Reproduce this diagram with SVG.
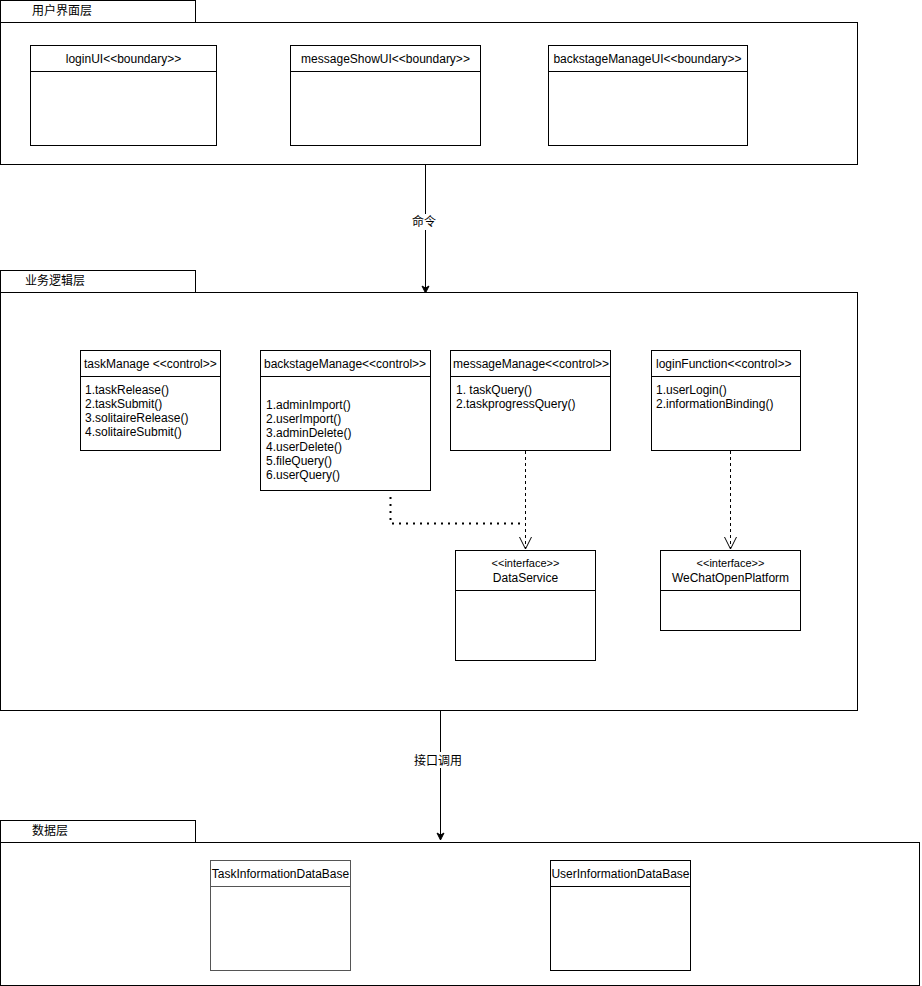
<svg xmlns="http://www.w3.org/2000/svg" width="922" height="986" viewBox="0 0 922 986">
<style>
text{font-family:"Liberation Sans","Noto Sans CJK SC",sans-serif;font-size:12px;fill:#000}
.b{fill:#fff;stroke:#000;stroke-width:1}
.l{stroke:#000;stroke-width:1;fill:none}
.c{text-anchor:middle}
</style>
<defs>
<marker id="fa" markerWidth="10" markerHeight="10" refX="8" refY="5" orient="auto" markerUnits="userSpaceOnUse"><path d="M1,1.5 L8,5 L1,8.5 L3,5 Z" fill="#000" stroke="#000"/></marker>
<marker id="oa" markerWidth="14" markerHeight="16" refX="13" refY="7" orient="auto" markerUnits="userSpaceOnUse"><path d="M1,1 L13,7 L1,13" fill="none" stroke="#000"/></marker>
</defs>
<rect width="922" height="986" fill="#fff"/>
<g id="pkg-ui">
<rect class="b" x="0.5" y="0.5" width="195" height="22"/>
<rect class="b" x="0.5" y="22.5" width="857" height="142"/>
<text x="32" y="15">用户界面层</text>
</g>
<g id="pkg-logic">
<rect class="b" x="0.5" y="270.5" width="195" height="22"/>
<rect class="b" x="0.5" y="292.5" width="857" height="418"/>
<text x="25" y="285">业务逻辑层</text>
</g>
<g id="pkg-data">
<rect class="b" x="0.5" y="820.5" width="195" height="22"/>
<rect class="b" x="0.5" y="842.5" width="919" height="143"/>
<text x="32" y="835">数据层</text>
</g>
<g id="loginUI">
<rect class="b" x="30.5" y="45.5" width="186" height="100"/>
<line class="l" x1="30.5" y1="71.5" x2="216.5" y2="71.5"/>
<text class="c" x="123.5" y="63">loginUI&lt;&lt;boundary&gt;&gt;</text>
</g>
<g id="messageShowUI">
<rect class="b" x="290.5" y="45.5" width="190" height="100"/>
<line class="l" x1="290.5" y1="71.5" x2="480.5" y2="71.5"/>
<text class="c" x="385.5" y="63">messageShowUI&lt;&lt;boundary&gt;&gt;</text>
</g>
<g id="backstageManageUI">
<rect class="b" x="548.5" y="45.5" width="199" height="100"/>
<line class="l" x1="548.5" y1="71.5" x2="747.5" y2="71.5"/>
<text class="c" x="647.5" y="63">backstageManageUI&lt;&lt;boundary&gt;&gt;</text>
</g>
<g id="taskManage">
<rect class="b" x="80.5" y="350.5" width="140" height="100"/>
<line class="l" x1="80.5" y1="376.5" x2="220.5" y2="376.5"/>
<text x="84" y="368">taskManage &lt;&lt;control&gt;&gt;</text>
<text x="85" y="394">1.taskRelease()</text>
<text x="85" y="408">2.taskSubmit()</text>
<text x="85" y="422">3.solitaireRelease()</text>
<text x="85" y="436">4.solitaireSubmit()</text>
</g>
<g id="backstageManage">
<rect class="b" x="260.5" y="350.5" width="170" height="140"/>
<line class="l" x1="260.5" y1="376.5" x2="430.5" y2="376.5"/>
<text x="264" y="368">backstageManage&lt;&lt;control&gt;&gt;</text>
<text x="266" y="409">1.adminImport()</text>
<text x="266" y="423">2.userImport()</text>
<text x="266" y="437">3.adminDelete()</text>
<text x="266" y="451">4.userDelete()</text>
<text x="266" y="465">5.fileQuery()</text>
<text x="266" y="479">6.userQuery()</text>
</g>
<g id="messageManage">
<rect class="b" x="450.5" y="350.5" width="160" height="100"/>
<line class="l" x1="450.5" y1="376.5" x2="610.5" y2="376.5"/>
<text x="453" y="368">messageManage&lt;&lt;control&gt;&gt;</text>
<text x="456" y="394">1. taskQuery()</text>
<text x="456" y="408">2.taskprogressQuery()</text>
</g>
<g id="loginFunction">
<rect class="b" x="651.5" y="350.5" width="149" height="100"/>
<line class="l" x1="651.5" y1="376.5" x2="800.5" y2="376.5"/>
<text x="656" y="368">loginFunction&lt;&lt;control&gt;&gt;</text>
<text x="656" y="394">1.userLogin()</text>
<text x="656" y="408">2.informationBinding()</text>
</g>
<g id="DataService">
<rect class="b" x="455.5" y="550.5" width="140" height="110"/>
<line class="l" x1="455.5" y1="590.5" x2="595.5" y2="590.5"/>
<text class="c" x="525.5" y="567" style="font-size:11px">&lt;&lt;interface&gt;&gt;</text>
<text class="c" x="525.5" y="582">DataService</text>
</g>
<g id="WeChatOpenPlatform">
<rect class="b" x="660.5" y="550.5" width="140" height="80"/>
<line class="l" x1="660.5" y1="590.5" x2="800.5" y2="590.5"/>
<text class="c" x="730.5" y="567" style="font-size:11px">&lt;&lt;interface&gt;&gt;</text>
<text class="c" x="730.5" y="582">WeChatOpenPlatform</text>
</g>
<g id="TaskInformationDataBase">
<rect class="b" x="210.5" y="860.5" width="140" height="110" style="stroke:#555"/>
<line class="l" x1="210.5" y1="886.5" x2="350.5" y2="886.5" style="stroke:#555"/>
<text class="c" x="280.5" y="878">TaskInformationDataBase</text>
</g>
<g id="UserInformationDataBase">
<rect class="b" x="550.5" y="860.5" width="140" height="110"/>
<line class="l" x1="550.5" y1="886.5" x2="690.5" y2="886.5"/>
<text class="c" x="620.5" y="878">UserInformationDataBase</text>
</g>
<g id="connectors">
<line class="l" x1="425.5" y1="165" x2="425.5" y2="293" marker-end="url(#fa)"/>
<rect x="407" y="214" width="36" height="16" fill="#fff"/>
<text class="c" x="424" y="226">命令</text>
<line class="l" x1="440.5" y1="711" x2="440.5" y2="840" marker-end="url(#fa)"/>
<rect x="411" y="752" width="54" height="16" fill="#fff"/>
<text class="c" x="438" y="765">接口调用</text>
<line class="l" x1="525.5" y1="451" x2="525.5" y2="549" stroke-dasharray="3,3" marker-end="url(#oa)"/>
<line class="l" x1="730.5" y1="451" x2="730.5" y2="549" stroke-dasharray="3,3" marker-end="url(#oa)"/>
<path d="M390.5,497 L390.5,523.5 L520,523.5" fill="none" stroke="#000" stroke-width="2" stroke-dasharray="2,5"/>
</g>
</svg>
